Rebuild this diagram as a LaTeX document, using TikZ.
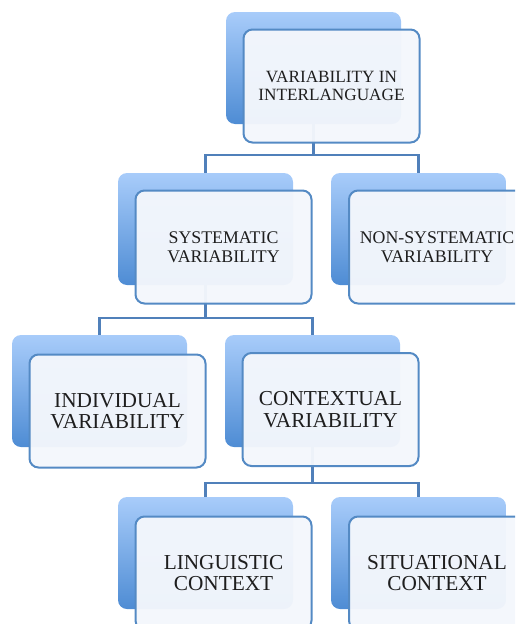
\documentclass[tikz,border=0pt]{standalone}
\usepackage{fontspec}
\setmainfont{Liberation Serif}
\definecolor{backtop}{RGB}{168,204,250}
\definecolor{backbot}{RGB}{78,140,212}
\definecolor{frontline}{RGB}{84,138,196}
\definecolor{frontfill}{RGB}{244,247,252}
\definecolor{connline}{RGB}{80,128,186}
\definecolor{txt}{RGB}{30,30,30}
\tikzset{
  backbox/.style={rectangle, rounded corners=9pt, minimum width=175pt, minimum height=112pt,
    inner sep=0pt, top color=backtop, bottom color=backbot, draw=none},
  frontbox/.style={rectangle, rounded corners=9pt, minimum width=176pt, minimum height=113pt,
    inner sep=0pt, draw=frontline, line width=2pt, fill=frontfill, fill opacity=0.96,
    text opacity=1, text=txt, align=center},
  lvla/.style={font=\fontsize{17.2}{17.5}\selectfont},
  lvlb/.style={font=\fontsize{17.8}{19.5}\selectfont},
  lvlc/.style={font=\fontsize{21.3}{21.5}\selectfont},
  conn/.style={draw=connline, line width=2.5pt},
}
\begin{document}
\begin{tikzpicture}[x=1pt,y=-1pt]
\useasboundingbox (0,0) rectangle (515,624);
\clip (0,0) rectangle (515,624);
% back boxes
\node[backbox] (b1) at (313.5,68) {};
\node[backbox] (b2) at (205.5,229) {};
\node[backbox] (b3) at (418.5,229) {};
\node[backbox] (b4) at (99.5,391) {};
\node[backbox] (b5) at (312.5,391) {};
\node[backbox] (b6) at (205.5,553) {};
\node[backbox] (b7) at (418.5,553) {};
% connectors (behind front boxes)
\draw[conn] (b1.south) |- ([yshift=18pt]b2.north) -- (b2.north);
\draw[conn] (b1.south) |- ([yshift=18pt]b3.north) -- (b3.north);
\draw[conn] (b2.south) |- ([yshift=17pt]b4.north) -- (b4.north);
\draw[conn] (b2.south) |- ([yshift=17pt]b5.north) -- (b5.north);
\draw[conn] (b5.south) |- ([yshift=14pt]b6.north) -- (b6.north);
\draw[conn] (b5.south) |- ([yshift=14pt]b7.north) -- (b7.north);
% front boxes
\node[frontbox,lvla] (f1) at (331.5,86) {VARIABILITY IN\\INTERLANGUAGE};
\node[frontbox,lvlb] (f2) at (223.5,247) {SYSTEMATIC\\VARIABILITY};
\node[frontbox,lvlb] (f3) at (437,247) {NON-SYSTEMATIC\\VARIABILITY};
\node[frontbox,lvlc] (f4) at (117.5,411) {INDIVIDUAL\\VARIABILITY};
\node[frontbox,lvlc] (f5) at (330.5,409.5) {CONTEXTUAL\\VARIABILITY};
\node[frontbox,lvlc] (f6) at (223.5,573) {LINGUISTIC\\CONTEXT};
\node[frontbox,lvlc] (f7) at (437,573) {SITUATIONAL\\CONTEXT};
\end{tikzpicture}
\end{document}
